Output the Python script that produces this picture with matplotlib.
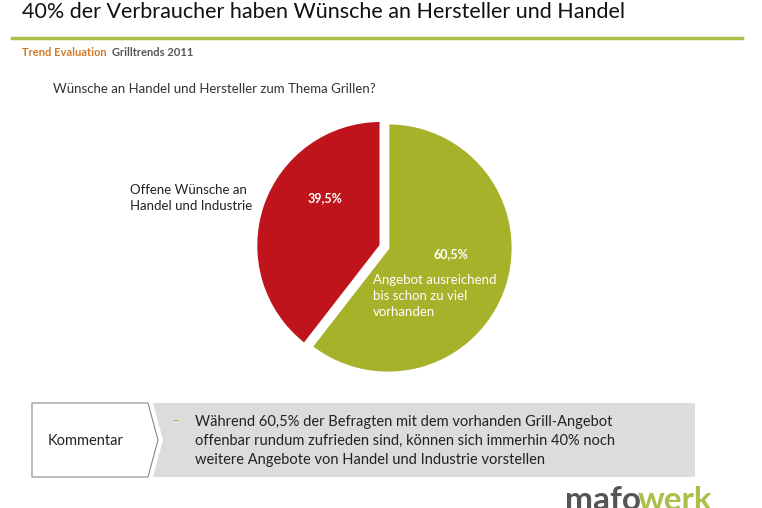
import matplotlib
matplotlib.use("Agg")
import matplotlib.pyplot as plt
from matplotlib.patches import Polygon

plt.rcParams['font.family'] = ['Lato', 'DejaVu Sans']

# Daten
anteile = [39.5, 60.5]
etiketten = ["39,5%", "60,5%"]
farben = ["#c0141c", "#a5b22a"]
explode = [0.06, 0.0]

W, H = 762, 508
fig = plt.figure(figsize=(W / 100, H / 100), dpi=100)

# Hintergrund-Achse in Pixelkoordinaten (y nach unten)
bg = fig.add_axes([0, 0, 1, 1])
bg.set_xlim(0, W)
bg.set_ylim(H, 0)
bg.axis("off")

bg.text(22, 12, "40% der Verbraucher haben Wünsche an Hersteller und Handel",
        fontsize=15.5, va="center", ha="left", color="#111111")
bg.plot([12, 742], [38, 38], color="#a9c04a", lw=2.5)
bg.text(22, 53, "Trend Evaluation", fontsize=8, fontweight="bold", color="#d07a28", va="center")
bg.text(112, 53, "Grilltrends 2011", fontsize=8, fontweight="bold", color="#555555", va="center")
bg.text(53, 89, "Wünsche an Handel und Hersteller zum Thema Grillen?", fontsize=9.5,
        color="#333333", va="center")

bg.text(130, 198, "Offene Wünsche an\nHandel und Industrie", fontsize=9.5, color="#222222",
        va="center", ha="left", linespacing=1.4)

# Kommentar-Box
bg.add_patch(Polygon([[32, 403], [148, 403], [158, 440], [148, 477], [32, 477]],
                     closed=True, facecolor="white", edgecolor="#888888", lw=0.8))
bg.add_patch(Polygon([[153, 403], [695, 403], [695, 477], [153, 477], [163, 440]],
                     closed=True, facecolor="#dcdcdc", edgecolor="none"))
bg.text(48, 441, "Kommentar", fontsize=10.5, color="#222222", va="center")
bg.text(172, 421, "–", fontsize=10, color="#a9c04a", va="center")
bg.text(195, 441, "Während 60,5% der Befragten mit dem vorhanden Grill-Angebot\n"
        "offenbar rundum zufrieden sind, können sich immerhin 40% noch\n"
        "weitere Angebote von Handel und Industrie vorstellen",
        fontsize=10.5, color="#222222", va="center", linespacing=1.45)

bg.text(565, 500, "mafo", fontsize=24, fontweight="bold", color="#555555", va="center")
bg.text(638, 500, "werk", fontsize=24, fontweight="bold", color="#a9c04a", va="center")

# Kreisdiagramm
cx, cy, r = 388, 248, 125
ax = fig.add_axes([(cx - 1.1 * r) / W, (H - cy - 1.1 * r) / H, 2.2 * r / W, 2.2 * r / H])
wedges, _ = ax.pie(anteile, colors=farben, explode=explode, startangle=90, counterclock=True,
                   radius=1.0, wedgeprops=dict(edgecolor="white", linewidth=2))
ax.set_xlim(-1.1, 1.1)
ax.set_ylim(-1.1, 1.1)
ax.set_aspect("equal")

ax.text(-0.5, 0.4, etiketten[0], fontsize=9, fontweight="bold", color="white", ha="center", va="center")
ax.text(0.5, -0.05, etiketten[1], fontsize=9, fontweight="bold", color="white", ha="center", va="center")
ax.text(-0.12, -0.38, "Angebot ausreichend\nbis schon zu viel\nvorhanden", fontsize=9.5,
        color="white", ha="left", va="center", linespacing=1.4)

fig.savefig("out.png", dpi=100)
